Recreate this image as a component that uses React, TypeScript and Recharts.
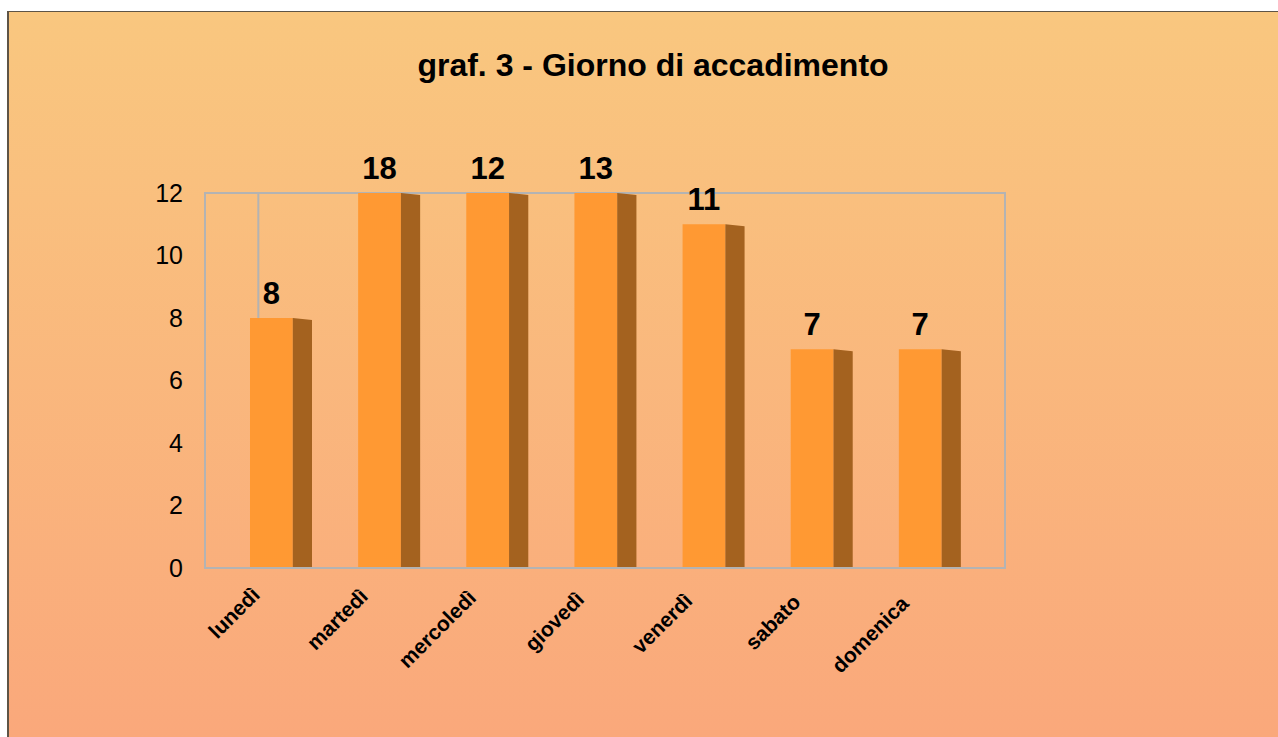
import React from 'react';
import { BarChart, Bar, XAxis, YAxis, LabelList, ReferenceArea, ReferenceLine } from 'recharts';

// dati del grafico
const giorni = ['lunedì', 'martedì', 'mercoledì', 'giovedì', 'venerdì', 'sabato', 'domenica'];
const incidenti = [8, 18, 12, 13, 11, 7, 7];
const yTicks = [0, 2, 4, 6, 8, 10, 12];
const Y_MAX = 12;
const LAST = giorni.length - 1;

const data = giorni.map((g, i) => ({
  giorno: g,
  pos: i,
  valore: incidenti[i],
  barra: Math.min(incidenti[i], Y_MAX),
}));

const FONT = '"Liberation Sans", Arial, sans-serif';
const FRAME = '#B3B3B3';

// barra "3D": faccia frontale + lato scuro
const Bar3D = (props: any) => {
  const { x, y, width, height } = props;
  if (height <= 0) return null;
  const fw = width * 0.69;
  return (
    <g>
      <rect x={x} y={y} width={fw} height={height} fill="#FF9933" />
      <polygon
        points={`${x + fw},${y} ${x + width},${y + 2} ${x + width},${y + height} ${x + fw},${y + height}`}
        fill="#A4621F"
      />
    </g>
  );
};

const ValoreLabel = (props: any) => {
  const { x, y, width, value } = props;
  return (
    <text
      x={x + width * 0.69 / 2}
      y={y - 14}
      textAnchor="middle"
      fontFamily={FONT}
      fontWeight="bold"
      fontSize={31}
      fill="#000"
    >
      {value}
    </text>
  );
};

const GiornoTick = (props: any) => {
  const { x, y, payload, index } = props;
  const ax = x - 20;
  const ay = y + 20 + (index || 0) * 1.5;
  return (
    <text
      x={ax}
      y={ay}
      transform={`rotate(-45, ${ax}, ${ay})`}
      textAnchor="end"
      fontFamily={FONT}
      fontWeight="bold"
      fontSize={21}
      fill="#000"
    >
      {payload.value}
    </text>
  );
};

const App: React.FC = () => {
  return (
    <div
      style={{
        position: 'fixed',
        left: 7,
        top: 11,
        width: 1271,
        height: 726,
        boxSizing: 'border-box',
        borderTop: '1px solid #5E5446',
        borderLeft: '2px solid #5E5446',
        background: 'linear-gradient(to bottom, #F9C77F 0%, #FAA87B 100%)',
        fontFamily: FONT,
        overflow: 'hidden',
      }}
    >
      <div
        style={{
          position: 'absolute',
          left: 0,
          top: 35,
          width: 1288,
          textAlign: 'center',
          fontSize: 32,
          fontWeight: 'bold',
          color: '#000',
        }}
      >
        graf. 3 - Giorno di accadimento
      </div>
      <div style={{ position: 'absolute', left: -2, top: -1 }}>
        <BarChart
          width={1271}
          height={726}
          data={data}
          margin={{ top: 182, right: 273, left: 138, bottom: 69 }}
        >
          <XAxis
            dataKey="giorno"
            height={100}
            interval={0}
            padding={{ left: 22, right: 21 }}
            axisLine={{ stroke: FRAME, strokeWidth: 2 }}
            tickLine={false}
            tick={<GiornoTick />}
          />
          <XAxis xAxisId="frame" dataKey="pos" type="number" domain={[0, LAST]} hide />
          <YAxis
            width={60}
            domain={[0, Y_MAX]}
            ticks={yTicks}
            interval={0}
            tickLine={false}
            tickSize={0}
            tickMargin={22}
            axisLine={{ stroke: FRAME, strokeWidth: 2 }}
            tick={{ fill: '#000', fontSize: 25, fontFamily: FONT }}
          />
          <ReferenceArea
            xAxisId="frame"
            x1={0}
            x2={LAST}
            y1={0}
            y2={Y_MAX}
            fill="none"
            fillOpacity={0}
            stroke={FRAME}
            strokeWidth={2}
          />
          {/* spigolo interno della parete di fondo, nascosto dietro la prima barra */}
          <ReferenceLine
            xAxisId="frame"
            segment={[
              { x: 0.4, y: Y_MAX },
              { x: 0.4, y: Math.min(incidenti[0], Y_MAX) },
            ]}
            stroke={FRAME}
            strokeWidth={2}
          />
          <Bar dataKey="barra" barSize={62} shape={<Bar3D />} isAnimationActive={false}>
            <LabelList dataKey="valore" content={<ValoreLabel />} />
          </Bar>
        </BarChart>
      </div>
    </div>
  );
};

export default App;
